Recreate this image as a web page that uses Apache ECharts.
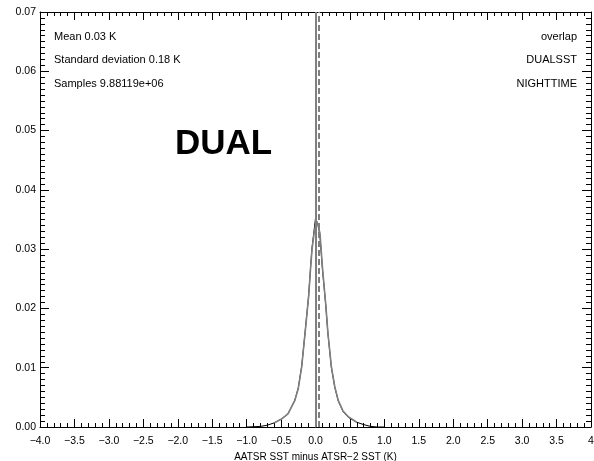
<!DOCTYPE html>
<html>
<head>
<meta charset="utf-8">
<script src="https://cdn.jsdelivr.net/npm/echarts@6/dist/echarts.min.js"></script>
<style>
html,body{margin:0;padding:0;background:#fff;}
#main{width:594px;height:461px;}
</style>
</head>
<body>
<div id="main"></div>
<script>
// histogram of differences (x in K, y = fraction)
var diffX = [-1.0,-0.8,-0.7,-0.6,-0.5,-0.4,-0.3,-0.25,-0.2,-0.15,-0.1,-0.07,-0.05,-0.02,0.0,0.02,0.04,0.065,0.1,0.15,0.18,0.23,0.28,0.33,0.4,0.48,0.6,0.7,0.8,0.9,1.0];
var dualFrac = [0,0.0001,0.0003,0.0007,0.0013,0.0022,0.0045,0.0065,0.0102,0.016,0.022,0.027,0.030,0.0327,0.0340,0.0347,0.0345,0.0327,0.027,0.0205,0.0159,0.0102,0.0068,0.0045,0.0027,0.0017,0.0008,0.0004,0.0001,0,0];
var overlapFrac = [0,0.0001,0.0003,0.0007,0.0013,0.0022,0.0045,0.0066,0.0103,0.0161,0.0221,0.0272,0.0303,0.0332,0.0352,0.0345,0.0340,0.0322,0.0268,0.0204,0.0158,0.0101,0.0067,0.0044,0.0026,0.0016,0.0008,0.0004,0.0001,0,0];
var vLines = [0.01, 0.04]; // solid and dashed reference lines
var statsLeft = ['Mean 0.03 K', 'Standard deviation 0.18 K', 'Samples 9.88119e+06'];
var statsRight = ['overlap', 'DUALSST', 'NIGHTTIME'];

var chart = echarts.init(document.getElementById('main'), null, {renderer:'canvas'});

var blackPts = [], greyPts = [];
for (var i = 0; i < diffX.length; i++) {
  blackPts.push([diffX[i], overlapFrac[i]]);
  if (diffX[i] >= -0.6 && diffX[i] <= 0.65) greyPts.push([diffX[i], dualFrac[i]]);
}

var fnt = 'Liberation Sans, Arial, sans-serif';
var txt = [];
var ys = [37, 60.5, 84];
for (var k = 0; k < 3; k++) {
  txt.push({type:'text', left:54, top:ys[k]-6, style:{text:statsLeft[k], font:'11px ' + fnt, fill:'#000'}});
  txt.push({type:'text', right:17, top:ys[k]-6, style:{text:statsRight[k], font:'11px ' + fnt, fill:'#000', textAlign:'right'}});
}
txt.push({type:'text', left:175, top:127, style:{text:'DUAL', font:'bold 35px ' + fnt, fill:'#000'}});

function xfmt(v) {
  if (v === 4) return '4';
  return v.toFixed(1).replace('-', '\u2212');
}

var axLine = {show:true, onZero:false, lineStyle:{color:'#000', width:1}};
var option = {
  backgroundColor:'#fff',
  animation:false,
  grid:{left:40, right:3, top:12, bottom:34, outerBoundsMode:'none', containLabel:false},
  xAxis:[{
    type:'value', min:-4, max:4, interval:0.5, position:'bottom',
    axisLine:axLine,
    axisTick:{show:true, inside:true, length:8, lineStyle:{color:'#000'}},
    minorTick:{show:true, splitNumber:5, length:4, lineStyle:{color:'#000'}},
    splitLine:{show:false},
    axisLabel:{color:'#000', fontSize:10.5, fontFamily:fnt, margin:9, formatter:xfmt},
    name:'AATSR SST minus ATSR\u22122 SST (K)', nameLocation:'middle', nameGap:19,
    nameTextStyle:{color:'#000', fontSize:10, fontFamily:fnt}
  },{
    type:'value', min:-4, max:4, interval:0.5, position:'top',
    axisLine:axLine,
    axisTick:{show:true, inside:true, length:8, lineStyle:{color:'#000'}},
    minorTick:{show:true, splitNumber:5, length:4, lineStyle:{color:'#000'}},
    splitLine:{show:false}, axisLabel:{show:false}
  }],
  yAxis:[{
    type:'value', min:0, max:0.07, interval:0.01, position:'left',
    axisLine:axLine,
    axisTick:{show:true, inside:true, length:9, lineStyle:{color:'#000'}},
    minorTick:{show:true, splitNumber:10, length:5, lineStyle:{color:'#000'}},
    splitLine:{show:false},
    axisLabel:{color:'#000', fontSize:10.5, fontFamily:fnt, margin:4, formatter:function(v){return v.toFixed(2);}}
  },{
    type:'value', min:0, max:0.07, interval:0.01, position:'right',
    axisLine:axLine,
    axisTick:{show:true, inside:true, length:9, lineStyle:{color:'#000'}},
    minorTick:{show:true, splitNumber:10, length:5, lineStyle:{color:'#000'}},
    splitLine:{show:false}, axisLabel:{show:false}
  }],
  series:[{
    name:'overlap', type:'line', data:blackPts, showSymbol:false, symbol:'none',
    lineStyle:{color:'#000', width:1}, z:2
  },{
    name:'DUAL', type:'line', data:greyPts, showSymbol:false, symbol:'none',
    lineStyle:{color:'#7f7f7f', width:1.6}, z:3,
    markLine:{
      silent:true, symbol:'none', label:{show:false},
      data:[
        {xAxis:vLines[0], lineStyle:{color:'#7f7f7f', width:2, type:'solid'}},
        {xAxis:vLines[1], lineStyle:{color:'#7f7f7f', width:2, type:[6,3]}}
      ]
    }
  }],
  graphic:txt
};
chart.setOption(option);
</script>
</body>
</html>
